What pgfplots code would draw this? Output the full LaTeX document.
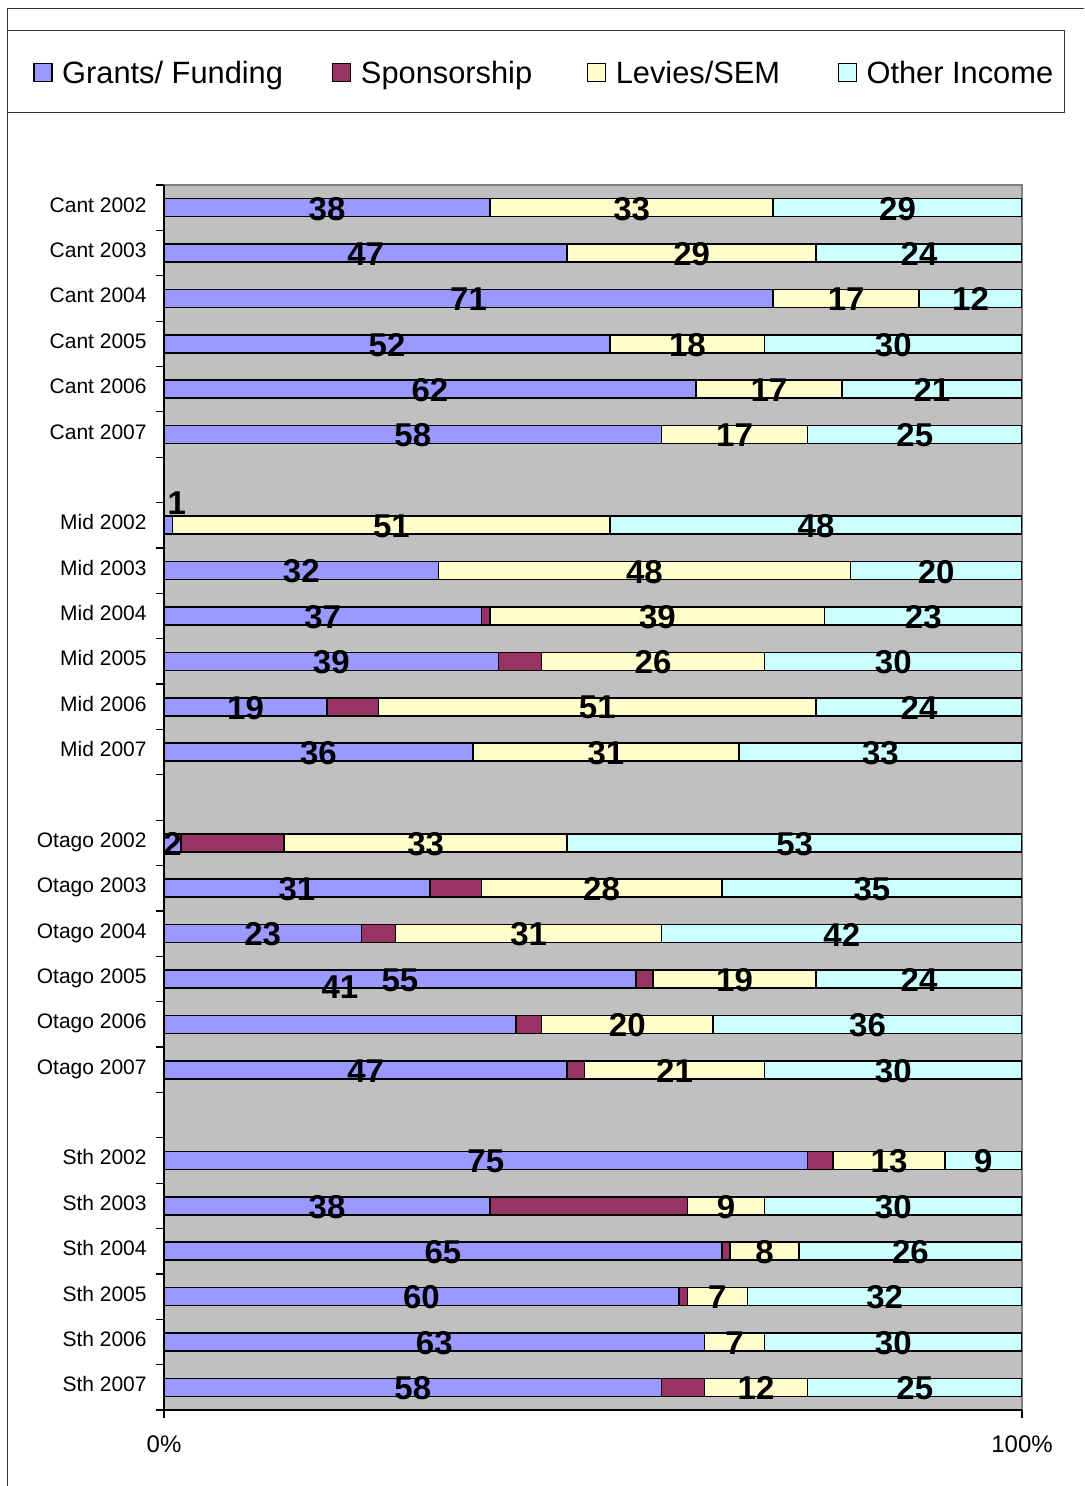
\documentclass[border=0pt]{standalone}
\usepackage{pgfplots}
\pgfplotsset{compat=1.18}
\usepackage{pgfplotstable}
\usepackage{fontspec}
\setmainfont{Liberation Sans}

\definecolor{cgrant}{RGB}{153,153,255}
\definecolor{cspons}{RGB}{153,51,102}
\definecolor{clevy}{RGB}{255,255,204}
\definecolor{cother}{RGB}{204,255,255}
\definecolor{cbg}{RGB}{192,192,192}

% slot = row from the top; gly/glx = where the grants label sits
\pgfplotstableread{
slot g  s  l  o  gly   glx
0    38 0  33 29 0     0
1    47 0  29 24 1     0
2    71 0  17 12 2     0
3    52 0  18 30 3     0
4    62 0  17 21 4     0
5    58 0  17 25 5     0
7    1  0  51 48 6.49  1
8    32 0  48 20 8     0
9    37 1  39 23 9     0
10   39 5  26 30 10    0
11   19 6  51 24 11    0
12   36 0  31 33 12    0
14   2  12 33 53 14    0
15   31 6  28 35 15    0
16   23 4  31 42 16    0
17   55 2  19 24 17    0
18   41 3  20 36 17.15 0
19   47 2  21 30 19    0
21   75 3  13 9  21    0
22   38 23 9  30 22    0
23   65 1  8  26 23    0
24   60 1  7  32 24    0
25   63 0  7  30 25    0
26   58 5  12 25 26    0
}\income

\begin{document}
\begin{tikzpicture}
\path[use as bounding box] (0,0) rectangle (542pt,-743pt);

% outer frame and legend box
\draw[black!80, line width=0.5pt] (3.75pt,-743pt) -- (3.75pt,-4.5pt) -- (542pt,-4.5pt);
\draw[black!80, line width=0.5pt] (3.75pt,-15.5pt) rectangle (532pt,-56.5pt);

\begin{axis}[
    name=bars,
    at={(82pt,-705pt)}, anchor=south west,
    width=429pt, height=612.5pt, scale only axis,
    xbar stacked, bar width=9pt,
    xmin=0, xmax=100, ymin=-26.5, ymax=0.5,
    axis x line*=bottom, axis y line*=left,
    axis line style={line width=0.6pt, black},
    axis background/.style={fill=cbg, draw=gray, line width=0.6pt},
    xtick={0,100}, xticklabels={0\%,100\%},
    xticklabel style={font=\fontsize{12}{14}\selectfont, anchor=center, inner sep=0pt, yshift=-13pt},
    ytick={-26.5,-25.5,...,0.5}, yticklabels={},
    tick align=outside, major tick length=4pt,
    tick style={black, line width=0.6pt},
    legend columns=4,
    legend cell align=left,
    legend image code/.code={\draw[#1, line width=0.6pt] (0pt,-4.5pt) rectangle (9pt,4.5pt);},
    legend style={
        at={(axis description cs:-0.1527,1.0918)}, anchor=west,
        draw=none, fill=none, inner sep=0pt,
        font=\fontsize{15.4}{18}\selectfont,
        nodes={inner sep=0pt, text depth=0pt},
        /tikz/every odd column/.append style={column sep=4.8pt},
        /tikz/every even column/.append style={column sep=25pt},
    },
]
\addplot[fill=cgrant, draw=black, line width=0.8pt] table[x=g, y expr=-\thisrow{slot}] {\income};
\addplot[fill=cspons, draw=black, line width=0.8pt] table[x=s, y expr=-\thisrow{slot}] {\income};
\addplot[fill=clevy, draw=black, line width=0.8pt] table[x=l, y expr=-\thisrow{slot}] {\income};
\addplot[fill=cother, draw=black, line width=0.8pt] table[x=o, y expr=-\thisrow{slot}] {\income};
\legend{\makebox[110pt][l]{Grants/ Funding}, \makebox[88pt][l]{Sponsorship},
        \makebox[86pt][l]{Levies/SEM}, Other Income}
\end{axis}

% labels: categories and segment values
\begin{axis}[
    at={(82pt,-705pt)}, anchor=south west,
    width=429pt, height=612.5pt, scale only axis,
    xmin=0, xmax=100, ymin=-26.5, ymax=0.5,
    axis line style={draw=none},
    xtick=\empty,
    ytick={-26,-25,-24,-23,-22,-21,-19,-18,-17,-16,-15,-14,-12,-11,-10,-9,-8,-7,-5,-4,-3,-2,-1,0},
    yticklabels={Sth 2007,Sth 2006,Sth 2005,Sth 2004,Sth 2003,Sth 2002,
        Otago 2007,Otago 2006,Otago 2005,Otago 2004,Otago 2003,Otago 2002,
        Mid 2007,Mid 2006,Mid 2005,Mid 2004,Mid 2003,Mid 2002,
        Cant 2007,Cant 2006,Cant 2005,Cant 2004,Cant 2003,Cant 2002},
    major tick length=0pt,
    yticklabel style={font=\fontsize{10.5}{12}\selectfont, anchor=base east, inner sep=0pt, xshift=-8.5pt, yshift=-2.25pt},
    clip=false,
    nodes near coords, point meta=explicit symbolic,
    nodes near coords align={center},
    every node near coord/.append style={font=\fontsize{16.5}{18}\selectfont\bfseries, anchor=center, inner sep=0pt, yshift=-0.5pt},
]
\addplot[draw=none, mark=none] table[x expr=\thisrow{g}/2+\thisrow{glx}, y expr=-\thisrow{gly}, meta=g] {\income};
\addplot[draw=none, mark=none] table[x expr=\thisrow{g}+\thisrow{s}+\thisrow{l}/2, y expr=-\thisrow{slot}, meta=l] {\income};
\addplot[draw=none, mark=none] table[x expr=\thisrow{g}+\thisrow{s}+\thisrow{l}+\thisrow{o}/2, y expr=-\thisrow{slot}, meta=o] {\income};
\end{axis}

\draw[black, line width=0.6pt] (bars.south west) -- (bars.north west);
\draw[black, line width=0.6pt] (bars.south west) -- (bars.south east);
\end{tikzpicture}
\end{document}
